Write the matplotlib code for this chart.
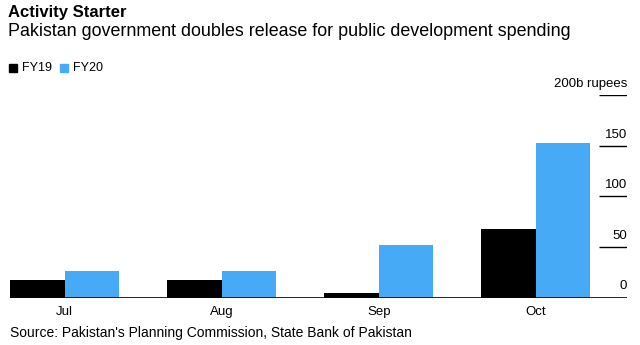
import matplotlib
matplotlib.use("Agg")
import matplotlib.pyplot as plt
from matplotlib.patches import Rectangle
import numpy as np

plt.rcParams['font.family'] = ['Liberation Sans', 'DejaVu Sans']

# Datos (miles de millones de rupias)
meses = ["Jul", "Aug", "Sep", "Oct"]
fy19 = [17, 17, 4, 68]
fy20 = [26, 26, 52, 153]
ticks_y = [0, 50, 100, 150]

azul = '#46aaf7'
ancho = 0.347

fig = plt.figure(figsize=(6.4, 3.45), dpi=100)
ax = fig.add_axes([10 / 640, 1 - 297.5 / 345, 617 / 640, 202.5 / 345])

x = np.arange(len(meses))
ax.bar(x - ancho / 2, fy19, ancho, color='black')
ax.bar(x + ancho / 2, fy20, ancho, color=azul)

ax.set_xlim(-ancho, 3.58)
ax.set_ylim(0, 200)
ax.axis('off')

# linea base
ax.axhline(0, color='black', linewidth=1.2)

# marcas del eje derecho
for v in ticks_y:
    if v > 0:
        ax.hlines(v, 3.40, 3.58, color='black', linewidth=1)
    ax.text(3.58, v + 5, str(v), ha='right', va='bottom', fontsize=9.5)
ax.hlines(200, 3.40, 3.58, color='black', linewidth=1)
ax.text(3.58, 205, "200b rupees", ha='right', va='bottom', fontsize=9.5)

# etiquetas de meses
for i, m in enumerate(meses):
    ax.text(i, -8, m, ha='center', va='top', fontsize=9.5)

# titulos
fig.text(8 / 640, 1 - 12 / 345, "Activity Starter", fontsize=12, fontweight='bold',
         ha='left', va='center')
fig.text(8 / 640, 1 - 32 / 345, "Pakistan government doubles release for public development spending",
         fontsize=12.9, ha='left', va='center')

# leyenda
for xs, color, nombre in [(9, 'black', "FY19"), (59.5, azul, "FY20")]:
    fig.patches.append(Rectangle((xs / 640, 1 - 72 / 345), 8 / 640, 8 / 345,
                                 transform=fig.transFigure, color=color))
    fig.text((xs + 13) / 640, 1 - 68 / 345, nombre, fontsize=9, ha='left', va='center')

# fuente
fig.text(10 / 640, 1 - 333 / 345, "Source: Pakistan's Planning Commission, State Bank of Pakistan",
         fontsize=10, ha='left', va='center')

fig.savefig("out.png", dpi=100)
